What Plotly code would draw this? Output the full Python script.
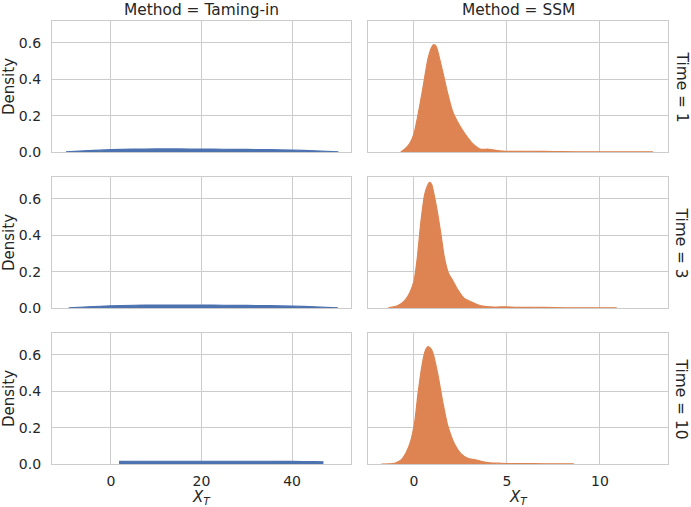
import plotly.graph_objects as go

# ---------------- data ----------------
methods = ["Taming-in", "SSM"]
times = [1, 3, 10]

# Taming-in densities
tam_t1_x = [-9.9, -5, 0, 5, 10, 15, 20, 25, 30, 35, 40, 45, 50.2]
tam_t1_y = [0.001, 0.008, 0.013, 0.016, 0.017, 0.017, 0.016, 0.015, 0.014, 0.013, 0.011, 0.007, 0.001]
tam_t3_x = [-9.3, -5, 0, 5, 10, 15, 20, 25, 30, 35, 40, 45, 50.1]
tam_t3_y = [0.001, 0.007, 0.012, 0.015, 0.016, 0.016, 0.016, 0.015, 0.014, 0.013, 0.011, 0.007, 0.001]
tam_t10_x = [1.8, 5, 10, 15, 20, 25, 30, 35, 40, 45, 46.9]
tam_t10_y = [0.014, 0.015, 0.015, 0.015, 0.015, 0.015, 0.015, 0.015, 0.014, 0.013, 0.012]

# SSM densities
ssm_t1_x = [-0.71, -0.5, -0.23, 0, 0.21, 0.48, 0.75, 0.95, 1.07, 1.2, 1.29, 1.55, 1.82, 2.09,
            2.45, 2.8, 3.16, 3.52, 3.75, 3.95, 4.23, 4.77, 5.5, 6.2, 7.0, 8.0, 9.5, 11.0, 12.85]
ssm_t1_y = [0.0, 0.015, 0.046, 0.10, 0.20, 0.35, 0.51, 0.575, 0.59, 0.58, 0.55, 0.44, 0.32, 0.22,
            0.147, 0.092, 0.046, 0.018, 0.014, 0.016, 0.012, 0.005, 0.003, 0.004, 0.003, 0.002, 0.001, 0.001, 0.001]
ssm_t3_x = [-1.39, -0.86, -0.5, -0.23, 0, 0.18, 0.36, 0.57, 0.72, 0.84, 0.95, 1.07, 1.29, 1.46, 1.64,
            1.86, 2.09, 2.36, 2.71, 3.07, 3.43, 3.79, 4.32, 4.95, 5.5, 6.5, 7.5, 9.0, 10.9]
ssm_t3_y = [0.0, 0.013, 0.04, 0.083, 0.147, 0.275, 0.46, 0.62, 0.67, 0.69, 0.68, 0.63, 0.51, 0.40, 0.275,
            0.19, 0.15, 0.10, 0.052, 0.034, 0.018, 0.009, 0.005, 0.007, 0.003, 0.004, 0.002, 0.001, 0.001]
ssm_t10_x = [-1.75, -1.04, -0.68, -0.41, -0.18, 0.04, 0.21, 0.43, 0.6, 0.75, 0.9, 1.02, 1.29, 1.55,
             1.82, 2.18, 2.54, 2.89, 3.25, 3.61, 4.05, 4.68, 5.5, 6.5, 7.5, 8.6]
ssm_t10_y = [0.0, 0.004, 0.024, 0.065, 0.124, 0.23, 0.38, 0.54, 0.62, 0.645, 0.635, 0.61, 0.49, 0.34,
             0.21, 0.11, 0.055, 0.031, 0.024, 0.015, 0.007, 0.004, 0.002, 0.002, 0.001, 0.001]

y_ticks = [0.0, 0.2, 0.4, 0.6]
x_ticks_tam = [0, 20, 40]
x_ticks_ssm = [0, 5, 10]

panels = {
    ("Taming-in", 1): (tam_t1_x, tam_t1_y),
    ("Taming-in", 3): (tam_t3_x, tam_t3_y),
    ("Taming-in", 10): (tam_t10_x, tam_t10_y),
    ("SSM", 1): (ssm_t1_x, ssm_t1_y),
    ("SSM", 3): (ssm_t3_x, ssm_t3_y),
    ("SSM", 10): (ssm_t10_x, ssm_t10_y),
}

colors = {"Taming-in": "#4c72b0", "SSM": "#dd8452"}

# ---------------- layout ----------------
W, H = 691, 507
col_dom = [[52 / W, 351 / W], [368 / W, 668 / W]]
row_px = [(21, 152), (177, 308), (333, 464)]
row_dom = [[(H - b) / H, (H - t) / H] for t, b in row_px]
x_ranges = {"Taming-in": [-13.0, 53.0], "SSM": [-2.47, 13.66]}
x_ticks = {"Taming-in": x_ticks_tam, "SSM": x_ticks_ssm}

FONT = "DejaVu Sans"
TXT = "#262626"
GRID = "#cccccc"

fig = go.Figure()
layout = dict(
    width=W, height=H,
    margin=dict(l=0, r=0, t=0, b=0),
    paper_bgcolor="white", plot_bgcolor="white",
    showlegend=False,
    font=dict(family=FONT, color=TXT, size=14),
)
annotations = []

for r, t in enumerate(times):
    for c, m in enumerate(methods):
        k = r * 2 + c + 1
        xs, ys = panels[(m, t)]
        suffix = "" if k == 1 else str(k)
        fig.add_trace(go.Scatter(
            x=xs, y=ys, mode="lines", fill="tozeroy",
            line=dict(color=colors[m], width=1.2, shape="spline", smoothing=0.6),
            fillcolor=colors[m],
            xaxis="x" + suffix, yaxis="y" + suffix, hoverinfo="skip",
        ))
        bottom = (r == len(times) - 1)
        left = (c == 0)
        xa = dict(
            domain=col_dom[c], anchor="y" + suffix, range=x_ranges[m],
            tickvals=x_ticks[m], showticklabels=bottom, ticks="",
            showgrid=True, gridcolor=GRID, gridwidth=1,
            showline=True, linecolor=GRID, linewidth=1.25, mirror=True,
            zeroline=False, tickfont=dict(size=14, color=TXT, family=FONT),
            ticklabelstandoff=4, automargin=False,
        )
        ya = dict(
            domain=row_dom[r], anchor="x" + suffix, range=[0, 0.72],
            tickvals=y_ticks, tickformat=".1f", showticklabels=left, ticks="",
            showgrid=True, gridcolor=GRID, gridwidth=1,
            showline=True, linecolor=GRID, linewidth=1.25, mirror=True,
            zeroline=False, tickfont=dict(size=14, color=TXT, family=FONT),
            ticklabelstandoff=7, automargin=False,
        )
        if left:
            ya["title"] = dict(text="Density",
                               font=dict(size=15, color=TXT, family=FONT), standoff=7)
        layout["xaxis" + suffix] = xa
        layout["yaxis" + suffix] = ya

# x-axis titles (bottom row)
for c in range(len(methods)):
    annotations.append(dict(
        text="<i>X</i><sub><i>T</i></sub>", xref="paper", yref="paper",
        x=(col_dom[c][0] + col_dom[c][1]) / 2, y=10 / H,
        xanchor="center", yanchor="middle", showarrow=False,
        font=dict(size=15, color=TXT, family=FONT),
    ))
# column titles
for c, m in enumerate(methods):
    annotations.append(dict(
        text=f"Method = {m}", xref="paper", yref="paper",
        x=(col_dom[c][0] + col_dom[c][1]) / 2, y=row_dom[0][1],
        xanchor="center", yanchor="bottom", yshift=0, showarrow=False,
        font=dict(size=15.4, color=TXT, family=FONT),
    ))
# row titles
for r, t in enumerate(times):
    annotations.append(dict(
        text=f"Time = {t}", xref="paper", yref="paper",
        x=col_dom[1][1], y=(row_dom[r][0] + row_dom[r][1]) / 2,
        xanchor="left", yanchor="middle", xshift=2, textangle=90, showarrow=False,
        font=dict(size=15.4, color=TXT, family=FONT),
    ))

layout["annotations"] = annotations
fig.update_layout(**layout)
fig.write_html("out.html", config={"displayModeBar": False},
               post_script="document.body.style.margin='0';document.body.style.padding='0';")
